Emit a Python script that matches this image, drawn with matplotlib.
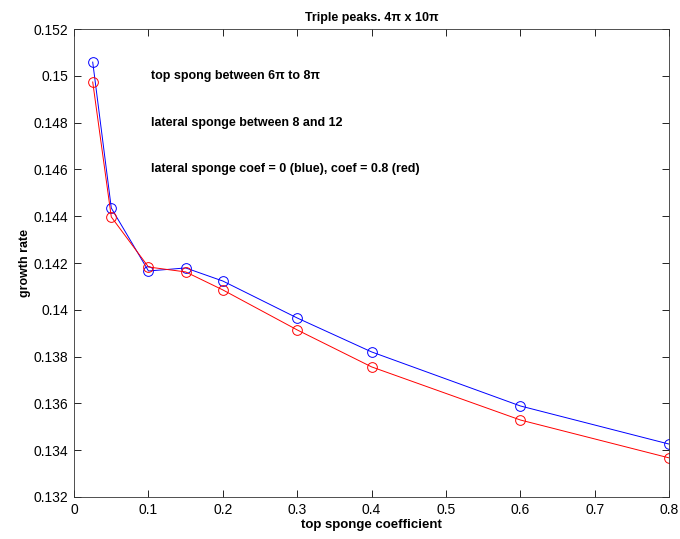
import matplotlib
matplotlib.use("Agg")
import matplotlib.pyplot as plt

plt.rcParams['font.family'] = ['Liberation Sans', 'DejaVu Sans']

# top sponge coefficient
coef = [0.025, 0.05, 0.1, 0.15, 0.2, 0.3, 0.4, 0.6, 0.8]
# growth rate, lateral sponge coef = 0 (blue)
rate_blue = [0.15059, 0.14435, 0.14166, 0.14179, 0.14123, 0.13965, 0.13820, 0.13589, 0.13426]
# growth rate, lateral sponge coef = 0.8 (red)
rate_red = [0.14974, 0.14397, 0.14183, 0.14162, 0.14085, 0.13914, 0.13756, 0.13529, 0.13367]

notes = ["top spong between 6\u03c0 to 8\u03c0",
         "lateral sponge between 8 and 12",
         "lateral sponge coef = 0 (blue), coef = 0.8 (red)"]
note_y = [0.150, 0.148, 0.146]

fig = plt.figure(figsize=(6.8, 5.39), dpi=100)
ax = fig.add_axes([0.109, 0.078, 0.875, 0.868])

ax.plot(coef, rate_blue, '-o', color='blue', lw=0.7, ms=7, mfc='none', mew=0.7)
ax.plot(coef, rate_red, '-o', color='red', lw=0.7, ms=7, mfc='none', mew=0.7)

ax.set_xlim(0, 0.8)
ax.set_ylim(0.132, 0.152)
ax.set_xticks([0, 0.1, 0.2, 0.3, 0.4, 0.5, 0.6, 0.7, 0.8])
ax.set_xticklabels(['0', '0.1', '0.2', '0.3', '0.4', '0.5', '0.6', '0.7', '0.8'])
yt = [0.132, 0.134, 0.136, 0.138, 0.14, 0.142, 0.144, 0.146, 0.148, 0.15, 0.152]
ax.set_yticks(yt)
ax.set_yticklabels([('%g' % v) for v in yt])
ax.tick_params(direction='in', top=True, right=True, labelsize=10, length=5, width=0.6, pad=4)
for s in ax.spines.values():
    s.set_linewidth(0.6)
    s.set_color('#333333')

for t, y in zip(notes, note_y):
    ax.text(0.1035, y, t, fontsize=9, fontweight='bold', va='center', ha='left')

ax.set_title("Triple peaks. 4\u03c0 x 10\u03c0", fontsize=9, fontweight='bold', pad=6)
ax.set_xlabel("top sponge coefficient", fontsize=9.5, fontweight='bold', labelpad=2)
ax.set_ylabel("growth rate", fontsize=9, fontweight='bold', labelpad=2)

fig.savefig("out.png", dpi=100)
